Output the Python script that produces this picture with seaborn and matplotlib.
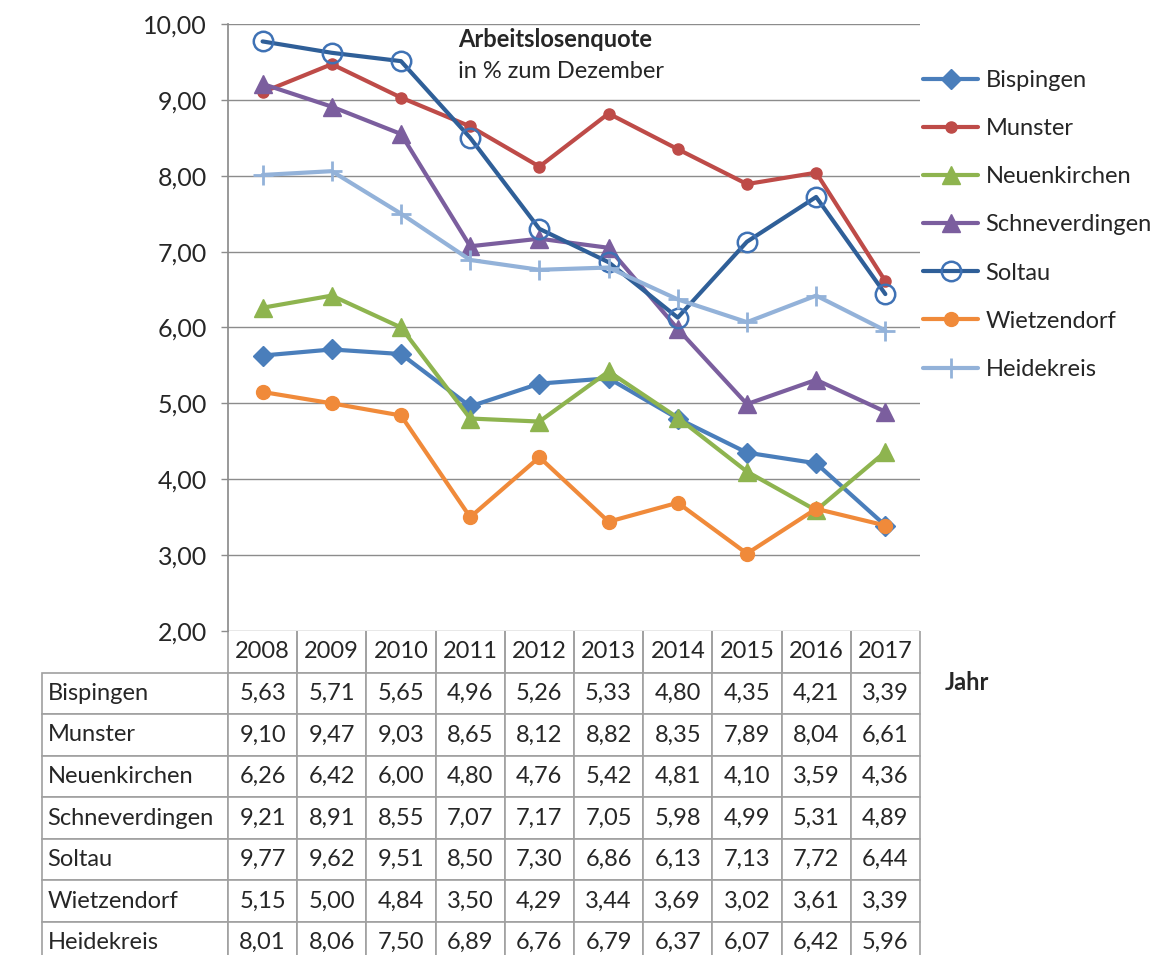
import matplotlib
matplotlib.use("Agg")
import numpy as np
import pandas as pd
import matplotlib.pyplot as plt
from matplotlib.ticker import FuncFormatter
import seaborn as sns

# Arbeitslosenquote in % zum Dezember, Heidekreis und Gemeinden
years = ["2008", "2009", "2010", "2011", "2012", "2013", "2014", "2015", "2016", "2017"]
bispingen = [5.63, 5.71, 5.65, 4.96, 5.26, 5.33, 4.80, 4.35, 4.21, 3.39]
munster = [9.10, 9.47, 9.03, 8.65, 8.12, 8.82, 8.35, 7.89, 8.04, 6.61]
neuenkirchen = [6.26, 6.42, 6.00, 4.80, 4.76, 5.42, 4.81, 4.10, 3.59, 4.36]
schneverdingen = [9.21, 8.91, 8.55, 7.07, 7.17, 7.05, 5.98, 4.99, 5.31, 4.89]
soltau = [9.77, 9.62, 9.51, 8.50, 7.30, 6.86, 6.13, 7.13, 7.72, 6.44]
wietzendorf = [5.15, 5.00, 4.84, 3.50, 4.29, 3.44, 3.69, 3.02, 3.61, 3.39]
heidekreis = [8.01, 8.06, 7.50, 6.89, 6.76, 6.79, 6.37, 6.07, 6.42, 5.96]

names = ["Bispingen", "Munster", "Neuenkirchen", "Schneverdingen",
         "Soltau", "Wietzendorf", "Heidekreis"]
values = [bispingen, munster, neuenkirchen, schneverdingen,
          soltau, wietzendorf, heidekreis]

# line colour, marker edge, marker face, marker, size, edge width
styles = {
    "Bispingen": ("#4A7EBB", "#4A7EBB", "#4A7EBB", "D", 10, 1),
    "Munster": ("#BE4B48", "#BE4B48", "#BE4B48", "o", 8, 1),
    "Neuenkirchen": ("#8EB44F", "#8EB44F", "#8EB44F", "^", 13, 1),
    "Schneverdingen": ("#7B5E9E", "#7B5E9E", "#7B5E9E", "^", 13, 1),
    "Soltau": ("#2F5F98", "#3F72B5", "none", "o", 14, 1.8),
    "Wietzendorf": ("#F08A3A", "#F08A3A", "#F08A3A", "o", 10, 1),
    "Heidekreis": ("#93B2D9", "#93B2D9", "#93B2D9", "+", 15, 2),
}


def fmt(v):
    return f"{v:.2f}".replace(".", ",")


def main():
    sns.set_theme(style="white")
    plt.rcParams["font.family"] = ["Lato", "DejaVu Sans"]

    df = pd.DataFrame({n: v for n, v in zip(names, values)})
    df["pos"] = np.arange(len(years))

    fig = plt.figure(figsize=(11.74, 9.55), dpi=100)
    ax = fig.add_axes([0.1942, 0.3393, 0.5894, 0.6356])

    for n in names:
        lc, ec, fc, mk, ms, mew = styles[n]
        sns.lineplot(data=df, x="pos", y=n, ax=ax, color=lc, linewidth=3.0,
                     marker=mk, markersize=ms, markeredgecolor=ec,
                     markerfacecolor=fc, markeredgewidth=mew, label=n)

    ax.set_xlim(-0.5, len(years) - 0.5)
    ax.set_ylim(2, 10)
    ax.set_yticks(np.arange(2, 11, 1))
    ax.yaxis.set_major_formatter(FuncFormatter(lambda v, p: fmt(v)))
    ax.set_xticks([])
    ax.set_xlabel("")
    ax.set_ylabel("")
    ax.grid(axis="y", color="#8C8C8C", linewidth=1)
    ax.set_axisbelow(True)
    for s in ["top", "right", "bottom"]:
        ax.spines[s].set_visible(False)
    ax.spines["left"].set_color("#8C8C8C")
    ax.tick_params(axis="y", length=5, width=1, color="#8C8C8C", pad=10,
                   labelsize=18, left=True)

    ax.text(0.332, 0.974, "Arbeitslosenquote", transform=ax.transAxes,
            fontsize=17, fontweight="bold", va="center", ha="left")
    ax.text(0.332, 0.921, "in % zum Dezember", transform=ax.transAxes,
            fontsize=17, va="center", ha="left")

    ax.legend(loc="upper left", bbox_to_anchor=(923 / 1174, 1 - 70 / 955),
              bbox_transform=fig.transFigure, frameon=False, fontsize=17,
              handlelength=2.35, handletextpad=0.3, labelspacing=1.15,
              borderaxespad=0, borderpad=0)

    # data table below the plot
    cells = [[""] + years]
    for n, v in zip(names, values):
        cells.append([n] + [fmt(x) for x in v])
    first_w = 186 / 692
    col_w = [first_w] + [0.1] * len(years)
    tbl = ax.table(cellText=cells, colWidths=col_w, cellLoc="center",
                   bbox=[-first_w, -0.5478, 1 + first_w, 0.5478])
    tbl.auto_set_font_size(False)
    tbl.set_fontsize(17)
    for (r, c), cell in tbl.get_celld().items():
        cell.set_edgecolor("#A0A0A0")
        cell.set_linewidth(1.2)
        if c == 0:
            cell.PAD = 0.03
            cell.get_text().set_ha("left")
            cell._loc = "left"
        if r == 0 and c == 0:
            cell.visible_edges = ""
        elif r == 0:
            cell.visible_edges = "LRB"

    fig.text(945 / 1174, 1 - 683 / 955, "Jahr", fontsize=17,
             fontweight="bold", va="center", ha="left")

    fig.savefig("out.png", dpi=100)


if __name__ == "__main__":
    main()
